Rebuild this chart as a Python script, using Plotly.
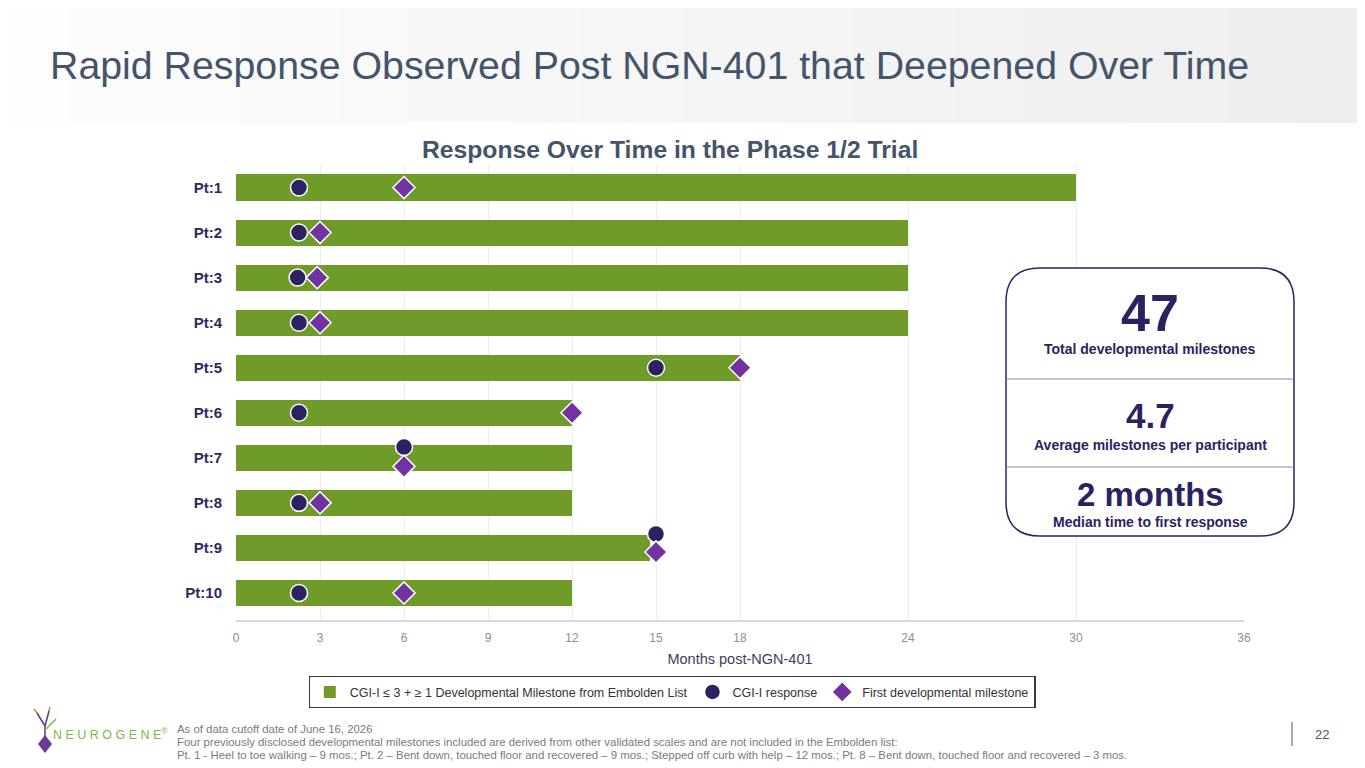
import plotly.graph_objects as go

# ---------------- data ----------------
patients = ["Pt:1", "Pt:2", "Pt:3", "Pt:4", "Pt:5", "Pt:6", "Pt:7", "Pt:8", "Pt:9", "Pt:10"]
response_duration = [30, 24, 24, 24, 18, 12, 12, 12, 14.8, 12]      # months (green bars)
cgi_response_month = [2.25, 2.25, 2.2, 2.25, 15, 2.25, 6, 2.25, 15, 2.25]
first_milestone_month = [6, 3, 2.9, 3, 18, 12, 6, 3, 15, 6]
x_ticks = [0, 3, 6, 9, 12, 15, 18, 24, 30, 36]

stat_values = ["47", "4.7", "2 months"]
stat_labels = ["Total developmental milestones", "Average milestones per participant",
               "Median time to first response"]

footnotes = [
    "As of data cutoff date of June 16, 2026",
    "Four previously disclosed developmental milestones included are derived from other validated scales and are not included in the Embolden list:",
    "Pt. 1 - Heel to toe walking – 9 mos.; Pt. 2 – Bent down, touched floor and recovered – 9 mos.; Stepped off curb with help – 12 mos.; Pt. 8 – Bent down, touched floor and recovered – 3 mos.",
]

# ---------------- style ----------------
PAGE_OFF = 8                      # browser body margin
W, H = 1365 - PAGE_OFF, 768 - PAGE_OFF
ML, MR, MT, MB = 236 - PAGE_OFF, 121, 165 - PAGE_OFF, 148
PW, PH = W - ML - MR, H - MT - MB
GREEN = "#6f9c28"
NAVY = "#2c2261"
PURPLE = "#7232a1"
LABEL = "#2d2a5e"
SLATE = "#44546a"
FONT = "Arial, Liberation Sans, sans-serif"

# vertical nudges (row units) where circle and diamond overlap
circle_nudge = {6: -0.24, 8: -0.31}
diamond_nudge = {6: 0.19, 8: 0.09}


def X(px):  # reference-screen pixel -> paper
    return (px - PAGE_OFF - ML) / PW


def Y(py):
    return (H - MB - (py - PAGE_OFF)) / PH


rows = list(range(len(patients)))
circle_y = [r + circle_nudge.get(r, 0) for r in rows]
diamond_y = [r + diamond_nudge.get(r, 0) for r in rows]

fig = go.Figure()
fig.add_trace(go.Bar(
    x=response_duration, y=rows, base=0, orientation="h", width=0.58,
    marker=dict(color=GREEN, line=dict(width=0)),
    name="CGI-I ≤ 3 + ≥ 1 Developmental Milestone from Embolden List",
))
fig.add_trace(go.Scatter(
    x=cgi_response_month, y=circle_y, mode="markers", name="CGI-I response",
    marker=dict(symbol="circle", size=17, color=NAVY, line=dict(color="white", width=1.5)),
))
fig.add_trace(go.Scatter(
    x=first_milestone_month, y=diamond_y, mode="markers", name="First developmental milestone",
    marker=dict(symbol="diamond", size=17, color=PURPLE, line=dict(color="white", width=1.5)),
))

shapes = []
# top gradient band
n = 40
for i in range(n):
    t = i / (n - 1)
    g = int(round(253 - 15 * t))
    shapes.append(dict(type="rect", xref="paper", yref="paper", layer="below",
                       x0=X(i * 1365 / n), x1=X((i + 1) * 1365 / n + 1), y0=Y(123), y1=Y(0),
                       fillcolor=f"rgb({g},{g},{g})", line=dict(width=0)))


def rounded_rect(x0, y0, x1, y1, r):
    p = lambda x, y: f"{X(x):.5f},{Y(y):.5f}"
    return ("M " + p(x0 + r, y0) + " L " + p(x1 - r, y0) + " Q " + p(x1, y0) + " " + p(x1, y0 + r)
            + " L " + p(x1, y1 - r) + " Q " + p(x1, y1) + " " + p(x1 - r, y1)
            + " L " + p(x0 + r, y1) + " Q " + p(x0, y1) + " " + p(x0, y1 - r)
            + " L " + p(x0, y0 + r) + " Q " + p(x0, y0) + " " + p(x0 + r, y0) + " Z")


# info box
bx0, by0, bx1, by1 = 1006, 268, 1294, 536
shapes.append(dict(type="path", xref="paper", yref="paper", path=rounded_rect(bx0, by0, bx1, by1, 34),
                   fillcolor="white", line=dict(color=NAVY, width=1.5), layer="above"))
for yy in (379, 467):
    shapes.append(dict(type="line", xref="paper", yref="paper", x0=X(bx0), x1=X(bx1), y0=Y(yy), y1=Y(yy),
                       line=dict(color="#8b86a8", width=1)))

# page number divider
shapes.append(dict(type="line", xref="paper", yref="paper", x0=X(1292), x1=X(1292), y0=Y(722), y1=Y(746),
                   line=dict(color="#555555", width=1)))

# logo icon
LG = "#7cb845"
LP = "#6a3a96"
shapes.append(dict(type="path", xref="paper", yref="paper",
                   path=f"M {X(45)},{Y(735)} L {X(52)},{Y(744)} L {X(45)},{Y(753)} L {X(38)},{Y(744)} Z",
                   fillcolor=LP, line=dict(width=0)))
for (xa, ya, xb, yb, c) in [(45, 736, 45, 726, LP), (45, 726, 37, 713, LP), (45, 726, 49, 711, LP),
                            (45, 730, 53, 722, LG), (37, 713, 34, 709, LG), (49, 711, 50, 707, LG),
                            (53, 722, 56, 719, LG)]:
    shapes.append(dict(type="line", xref="paper", yref="paper", x0=X(xa), y0=Y(ya), x1=X(xb), y1=Y(yb),
                       line=dict(color=c, width=1.6)))

annotations = []
annotations.append(dict(text="Rapid Response Observed Post NGN-401 that Deepened Over Time",
                        x=X(48), y=Y(65), xref="paper", yref="paper", xanchor="left", yanchor="middle",
                        showarrow=False, font=dict(family=FONT, size=39.3, color=SLATE)))
annotations.append(dict(text="<b>Response Over Time in the Phase 1/2 Trial</b>",
                        x=X(670), y=Y(150), xref="paper", yref="paper", xanchor="center", yanchor="middle",
                        showarrow=False, font=dict(family=FONT, size=24.7, color=SLATE)))

# info box text
stat_y = [(313, 52), (415, 35), (494, 33)]
label_y = [349, 445, 522]
for v, l, (vy, vs), ly in zip(stat_values, stat_labels, stat_y, label_y):
    annotations.append(dict(text=f"<b>{v}</b>", x=X(1150), y=Y(vy), xref="paper", yref="paper",
                            xanchor="center", yanchor="middle", showarrow=False,
                            font=dict(family=FONT, size=vs, color=NAVY)))
    annotations.append(dict(text=f"<b>{l}</b>", x=X(1150), y=Y(ly), xref="paper", yref="paper",
                            xanchor="center", yanchor="middle", showarrow=False,
                            font=dict(family=FONT, size=14, color=NAVY)))

# footnotes
for i, t in enumerate(footnotes):
    annotations.append(dict(text=t, x=X(175), y=Y(729 + 13 * i), xref="paper", yref="paper",
                            xanchor="left", yanchor="middle", showarrow=False,
                            font=dict(family=FONT, size=11.4, color="#7a7a7a")))
annotations.append(dict(text="22", x=X(1322), y=Y(734), xref="paper", yref="paper",
                        xanchor="center", yanchor="middle", showarrow=False,
                        font=dict(family=FONT, size=13, color="#555555")))
annotations.append(dict(text="N E U R O G E N E<sup>®</sup>", x=X(51), y=Y(734), xref="paper", yref="paper",
                        xanchor="left", yanchor="middle", showarrow=False,
                        font=dict(family=FONT, size=12.5, color=LG)))

fig.update_layout(
    width=W, height=H, margin=dict(l=ML, r=MR, t=MT, b=MB),
    paper_bgcolor="white", plot_bgcolor="white",
    font=dict(family=FONT),
    bargap=0, showlegend=True,
    legend=dict(orientation="h", x=X(672), xanchor="center", y=Y(676), yanchor="top",
                bordercolor="#3a3a3a", borderwidth=1.3, bgcolor="white",
                font=dict(family=FONT, size=12.5, color="#333333"),
                tracegroupgap=0, itemwidth=30),
    xaxis=dict(range=[0, 36], tickvals=x_ticks, showgrid=True, gridcolor="#ececec", gridwidth=1,
               zeroline=False, showline=True, linecolor="#d6d6d6", linewidth=1.5, ticks="",
               ticklabelstandoff=6,
               tickfont=dict(family=FONT, size=12, color="#8f8f8f"),
               title=dict(text="Months post-NGN-401", standoff=10,
                          font=dict(family=FONT, size=14.5, color="#3d3d5c"))),
    yaxis=dict(range=[9.6, -0.5], tickvals=rows, ticktext=patients, showgrid=False, zeroline=False,
               ticks="", ticklabelstandoff=13,
               tickfont=dict(family=FONT, size=15, color=LABEL, weight="bold")),
    shapes=shapes, annotations=annotations,
)

fig.write_html("out.html")
